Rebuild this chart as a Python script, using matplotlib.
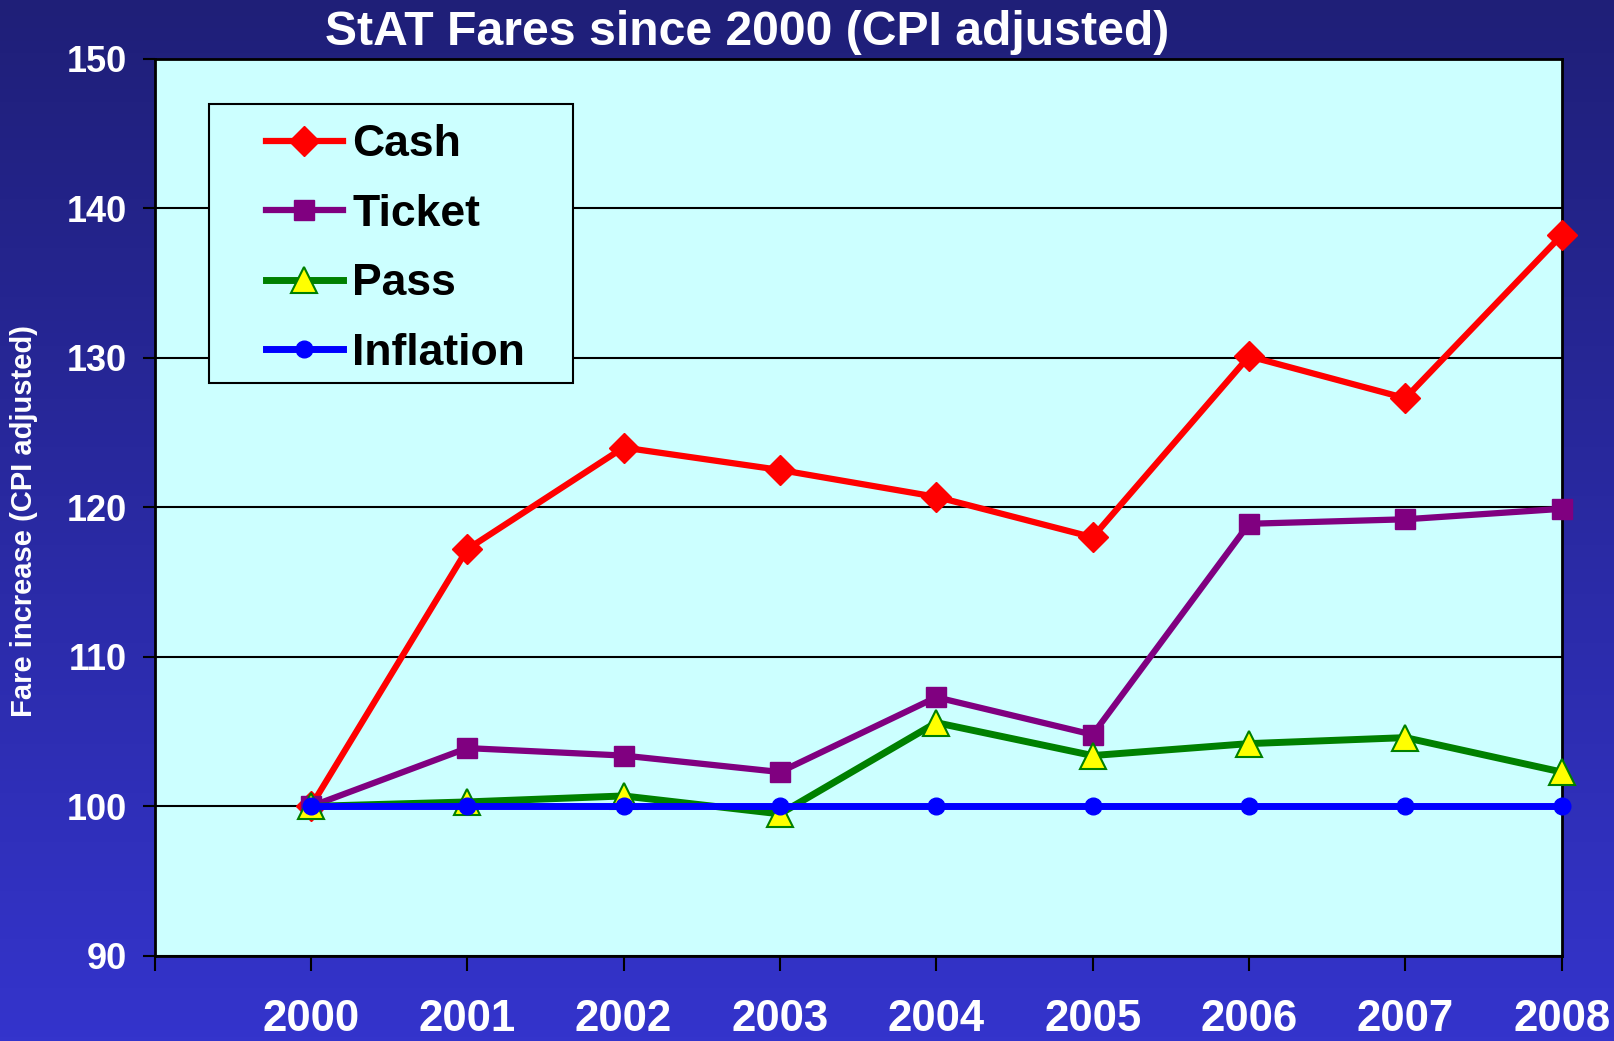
import numpy as np
import matplotlib
matplotlib.use("Agg")
import matplotlib.pyplot as plt
from matplotlib.patches import Rectangle
from matplotlib.colors import LinearSegmentedColormap

plt.rcParams['font.family'] = ['Liberation Sans', 'DejaVu Sans']
plt.rcParams['font.weight'] = 'bold'

years = [2000, 2001, 2002, 2003, 2004, 2005, 2006, 2007, 2008]
cash = [100, 117.2, 124.0, 122.5, 120.7, 118.0, 130.1, 127.3, 138.2]
ticket = [100, 103.9, 103.4, 102.3, 107.3, 104.8, 118.9, 119.2, 119.9]
pass_ = [100, 100.3, 100.7, 99.5, 105.6, 103.4, 104.2, 104.6, 102.3]
inflation = [100, 100, 100, 100, 100, 100, 100, 100, 100]

fig = plt.figure(figsize=(16.15, 10.41), dpi=100)

# background gradient, dark navy at top to brighter blue at bottom
bg = fig.add_axes([0, 0, 1, 1], zorder=-10)
cmap = LinearSegmentedColormap.from_list('bg', ['#3434cc', '#1f1f78'])
grad = np.linspace(0, 1, 256).reshape(-1, 1)
bg.imshow(grad, aspect='auto', cmap=cmap, extent=[0, 1, 0, 1], origin='lower')
bg.axis('off')

ax = fig.add_axes([0.0957, 0.0817, 0.8713, 0.8619])
ax.set_facecolor('#ccffff')

ax.plot(years, cash, color='#ff0000', lw=4.5, marker='D', ms=15,
        mec='#ff0000', mfc='#ff0000', clip_on=False, label='Cash', zorder=3)
ax.plot(years, ticket, color='#800080', lw=4.5, marker='s', ms=15,
        mec='#800080', mfc='#800080', clip_on=False, label='Ticket', zorder=3)
ax.plot(years, pass_, color='#008000', lw=5, marker='^', ms=19,
        mec='#008000', mfc='#ffff00', mew=1.5, clip_on=False, label='Pass', zorder=3)
ax.plot(years, inflation, color='#0000ff', lw=5, marker='o', ms=12,
        mec='#0000ff', mfc='#0000ff', clip_on=False, label='Inflation', zorder=3)

ax.set_xlim(1999, 2008)
ax.set_ylim(90, 150)
ax.set_yticks(range(90, 151, 10))
ax.set_xticks(range(1999, 2009))
ax.set_xticklabels([''] + [str(y) for y in years])
ax.yaxis.grid(True, color='black', lw=1.5)
ax.set_axisbelow(True)

for s in ax.spines.values():
    s.set_color('black')
    s.set_linewidth(2)

ax.tick_params(axis='x', direction='out', length=11, width=1.5, colors='black',
               labelcolor='white', labelsize=31.5, pad=20)
ax.tick_params(axis='y', direction='out', length=9, width=1.5, colors='black',
               labelcolor='white', labelsize=26, pad=11)
for lab in ax.get_xticklabels() + ax.get_yticklabels():
    lab.set_fontweight('bold')

ax.set_ylabel('Fare increase (CPI adjusted)', color='white', fontsize=21,
              fontweight='bold')
ax.yaxis.set_label_coords(-0.083, 0.485)

fig.text(0.4625, 0.969, 'StAT Fares since 2000 (CPI adjusted)', color='white',
         fontsize=34.7, fontweight='bold', ha='center', va='center')

# legend box
ax.add_patch(Rectangle((0.0387, 0.6386), 0.2587, 0.3109, transform=ax.transAxes,
                       facecolor='#ccffff', edgecolor='black', lw=1.5, zorder=4))
leg = ax.legend(loc='center left', bbox_to_anchor=(0.0793, 0.788), frameon=False,
                handlelength=1.72, handletextpad=0.22,
                labelspacing=0.64, borderpad=0, borderaxespad=0,
                prop={'weight': 'bold', 'size': 32})
leg.set_zorder(5)

fig.savefig('out.png', dpi=100)
